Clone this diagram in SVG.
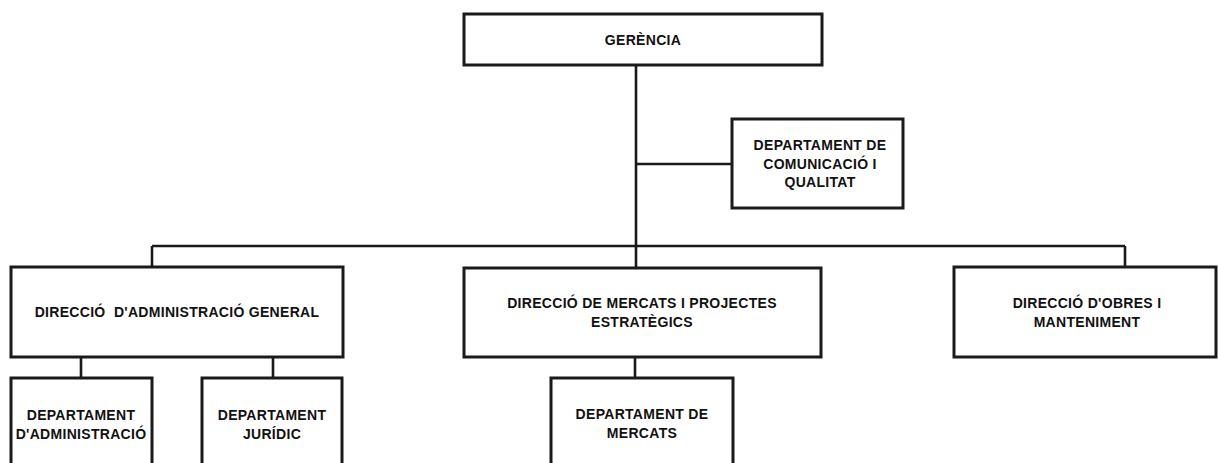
<svg xmlns="http://www.w3.org/2000/svg" width="1218" height="463" viewBox="0 0 1218 463">
<style>
.box{fill:#fff;stroke:#1a1a1a;stroke-width:3}
.ln{fill:none;stroke:#1a1a1a;stroke-width:2.6}
text{font-family:"Liberation Sans",Arial,sans-serif;font-weight:bold;font-size:14px;letter-spacing:0.3px;fill:#111;text-anchor:middle}
</style>
<rect width="1218" height="463" fill="#fff"/>
<g id="connectors">
<path class="ln" d="M636 65V268"/>
<path class="ln" d="M636 164H732"/>
<path class="ln" d="M152 246H1125"/>
<path class="ln" d="M152 246V267"/>
<path class="ln" d="M1125 246V267"/>
<path class="ln" d="M81 357V378"/>
<path class="ln" d="M273 357V378"/>
<path class="ln" d="M635 357V378"/>
</g>
<g id="gerencia">
<rect class="box" x="464" y="14" width="358" height="51"/>
<text x="643" y="45">GERÈNCIA</text>
</g>
<g id="comunicacio">
<rect class="box" x="732" y="119" width="171" height="89"/>
<text x="820" y="150">DEPARTAMENT DE</text>
<text x="820" y="168.5">COMUNICACIÓ I</text>
<text x="820" y="187">QUALITAT</text>
</g>
<g id="dir-admin">
<rect class="box" x="11" y="267" width="332" height="90"/>
<text x="177" y="317" xml:space="preserve">DIRECCIÓ  D'ADMINISTRACIÓ GENERAL</text>
</g>
<g id="dir-mercats">
<rect class="box" x="464" y="268" width="357" height="89"/>
<text x="642" y="308">DIRECCIÓ DE MERCATS I PROJECTES</text>
<text x="642" y="327">ESTRATÈGICS</text>
</g>
<g id="dir-obres">
<rect class="box" x="954" y="267" width="262" height="90"/>
<text x="1087" y="308">DIRECCIÓ D'OBRES I</text>
<text x="1087" y="327">MANTENIMENT</text>
</g>
<g id="dep-admin">
<rect class="box" x="11" y="378" width="141" height="100"/>
<text x="81" y="419.5">DEPARTAMENT</text>
<text x="81" y="439">D'ADMINISTRACIÓ</text>
</g>
<g id="dep-juridic">
<rect class="box" x="202" y="378" width="140" height="100"/>
<text x="272" y="419.5">DEPARTAMENT</text>
<text x="272" y="439">JURÍDIC</text>
</g>
<g id="dep-mercats">
<rect class="box" x="551" y="378" width="182" height="100"/>
<text x="642" y="419">DEPARTAMENT DE</text>
<text x="642" y="438">MERCATS</text>
</g>
</svg>
